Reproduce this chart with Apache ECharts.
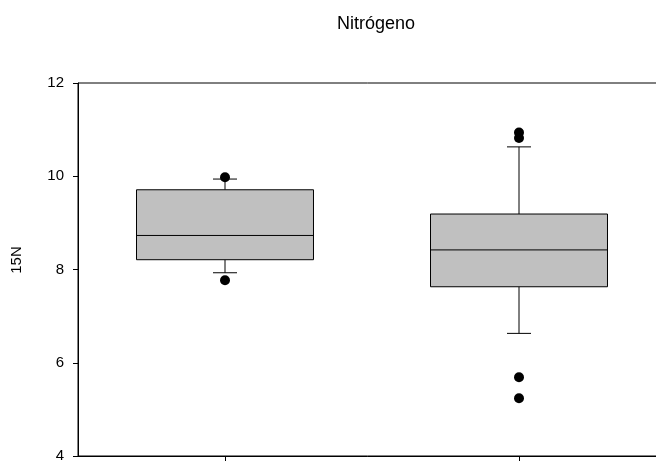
<!DOCTYPE html>
<html>
<head>
<meta charset="utf-8">
<script src="https://cdn.jsdelivr.net/npm/echarts@6/dist/echarts.min.js"></script>
<style>html,body{margin:0;padding:0;background:#fff;}#c{width:656px;height:461px;}</style>
</head>
<body>
<div id="c"></div>
<script>
var categories = ['Grupo 1', 'Grupo 2'];
// [lower whisker, Q1, median, Q3, upper whisker]
var boxValues = [
  [7.93, 8.21, 8.73, 9.71, 9.94],
  [6.63, 7.63, 8.42, 9.19, 10.63]
];
// outliers: [category index, value]
var outliers = [
  [0, 9.98], [0, 7.77],
  [1, 10.94], [1, 10.82], [1, 5.69], [1, 5.24]
];
var yTicks = { min: 4, max: 12, interval: 2 };

var boxData = boxValues.map(function (b, i) { return [i].concat(b); });

function renderBox(params, api) {
  var idx = api.value(0);
  var band = api.size([1, 0])[0];
  var bw = band * 0.602;
  var cap = 24;
  var pLow = api.coord([idx, api.value(1)]);
  var pQ1 = api.coord([idx, api.value(2)]);
  var pMed = api.coord([idx, api.value(3)]);
  var pQ3 = api.coord([idx, api.value(4)]);
  var pHigh = api.coord([idx, api.value(5)]);
  var x = pQ1[0];
  var ls = { stroke: '#000', lineWidth: 1 };
  return {
    type: 'group',
    children: [
      { type: 'line', shape: { x1: x, y1: pHigh[1], x2: x, y2: pQ3[1] }, style: ls },
      { type: 'line', shape: { x1: x - cap / 2, y1: pHigh[1], x2: x + cap / 2, y2: pHigh[1] }, style: ls },
      { type: 'line', shape: { x1: x, y1: pQ1[1], x2: x, y2: pLow[1] }, style: ls },
      { type: 'line', shape: { x1: x - cap / 2, y1: pLow[1], x2: x + cap / 2, y2: pLow[1] }, style: ls },
      { type: 'rect', shape: { x: x - bw / 2, y: pQ3[1], width: bw, height: pQ1[1] - pQ3[1] },
        style: { fill: '#c0c0c0', stroke: '#000', lineWidth: 1 } },
      { type: 'line', shape: { x1: x - bw / 2, y1: pMed[1], x2: x + bw / 2, y2: pMed[1] }, style: ls }
    ]
  };
}

var chart = echarts.init(document.getElementById('c'));
chart.setOption({
  animation: false,
  backgroundColor: '#fff',
  title: {
    text: 'Nitrógeno',
    left: 371, top: 10, textAlign: 'center',
    textStyle: { fontFamily: 'Liberation Sans, Arial, sans-serif', fontSize: 18, fontWeight: 'normal', color: '#000' }
  },
  graphic: [{
    type: 'text', x: 17, y: 260, rotation: Math.PI / 2,
    style: { text: '15N', fill: '#000', font: '15px "Liberation Sans", Arial, sans-serif', align: 'center', verticalAlign: 'middle' }
  }],
  grid: { left: 78, top: 83, width: 588, height: 373, outerBoundsMode: 'none', containLabel: false,
    show: true, borderColor: '#000', borderWidth: 1, backgroundColor: 'transparent' },
  xAxis: {
    type: 'category', data: categories, boundaryGap: true,
    axisLine: { lineStyle: { color: '#000', width: 1 } },
    axisTick: { show: true, alignWithLabel: true, interval: 0, length: 6, lineStyle: { color: '#000' } },
    axisLabel: { show: false },
    splitLine: { show: false }
  },
  yAxis: {
    type: 'value', min: yTicks.min, max: yTicks.max, interval: yTicks.interval,
    axisLine: { show: true, lineStyle: { color: '#000', width: 1 } },
    axisTick: { show: true, length: 5, lineStyle: { color: '#000' } },
    axisLabel: { color: '#000', fontSize: 15, margin: 14, fontFamily: 'Liberation Sans, Arial, sans-serif' },
    splitLine: { show: false }
  },
  series: [
    {
      type: 'custom', data: boxData, renderItem: renderBox,
      encode: { x: 0, y: [1, 2, 3, 4, 5] }
    },
    {
      type: 'scatter', data: outliers, symbol: 'circle', symbolSize: 10,
      itemStyle: { color: '#000', opacity: 1 }
    }
  ]
});
</script>
</body>
</html>
